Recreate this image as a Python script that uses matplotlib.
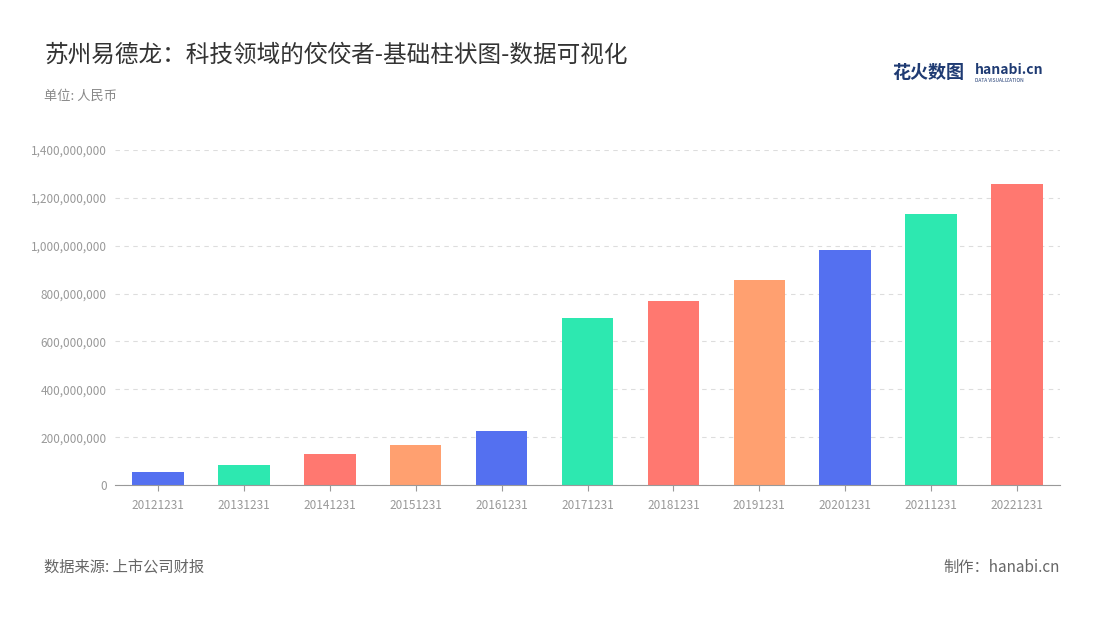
import matplotlib.pyplot as plt
from matplotlib.ticker import FuncFormatter

plt.rcParams['font.family'] = ['Noto Sans CJK SC', 'DejaVu Sans']

years = ['20121231', '20131231', '20141231', '20151231', '20161231', '20171231',
         '20181231', '20191231', '20201231', '20211231', '20221231']
values = [54e6, 84e6, 130e6, 167e6, 226e6, 698e6, 769e6, 857e6, 982e6, 1133e6, 1258e6]
palette = ['#5470f0', '#2de8b0', '#ff7870', '#ffa070']
colors = [palette[i % 4] for i in range(len(years))]

fig = plt.figure(figsize=(11, 6.2), dpi=100)
ax = fig.add_axes([115 / 1100, 1 - 485 / 620, 945 / 1100, 335 / 620])

ax.bar(range(len(years)), values, width=0.6, color=colors, zorder=2)
ax.set_xlim(-0.5, len(years) - 0.5)
ax.set_ylim(0, 1.4e9)
ax.set_yticks([i * 2e8 for i in range(8)])
ax.yaxis.set_major_formatter(FuncFormatter(lambda v, p: f'{int(v):,}'))
ax.set_xticks(range(len(years)))
ax.set_xticklabels(years)
ax.tick_params(axis='both', labelsize=8.5, colors='#999999', length=0, pad=6)
ax.tick_params(axis='x', length=4, color='#999999')
ax.grid(axis='y', linestyle=(0, (4, 4)), color='#dddddd', zorder=0)
for s in ['top', 'right', 'left']:
    ax.spines[s].set_visible(False)
ax.spines['bottom'].set_color('#999999')

fig.text(44 / 1100, 1 - 55 / 620, '苏州易德龙：科技领域的佼佼者-基础柱状图-数据可视化',
         fontsize=17, color='#333333', va='center')
fig.text(44 / 1100, 1 - 96 / 620, '单位: 人民币', fontsize=9.5, color='#888888', va='center')
fig.text(44 / 1100, 1 - 567 / 620, '数据来源: 上市公司财报', fontsize=11, color='#666666', va='center')
fig.text(1060 / 1100, 1 - 567 / 620, '制作：hanabi.cn', fontsize=11, color='#666666',
         va='center', ha='right')
fig.text(892 / 1100, 1 - 72 / 620, '花火数图', fontsize=13, color='#1f3b73',
         va='center', weight='bold')
fig.text(975 / 1100, 1 - 70 / 620, 'hanabi.cn', fontsize=10, color='#1f3b73',
         va='center', weight='bold')
fig.text(975 / 1100, 1 - 80 / 620, 'DATA VISUALIZATION', fontsize=3.5, color='#1f3b73',
         va='center')

fig.savefig('out.png', dpi=100)
